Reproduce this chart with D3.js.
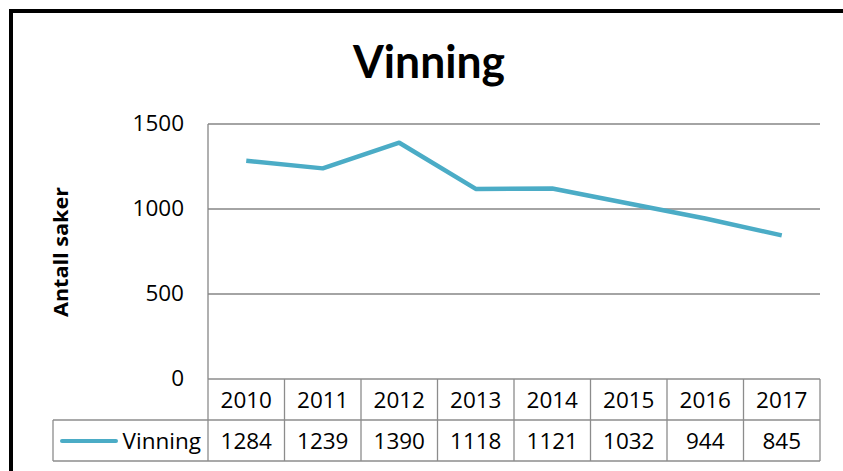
<!DOCTYPE html>
<html>
<head>
<meta charset="utf-8">
<script src="https://cdn.jsdelivr.net/npm/d3@7"></script>
<style>
  body { margin: 0; background: #fff; }
  svg { display: block; font-family: "Open Sans", Lato, sans-serif; }
</style>
</head>
<body>
<div id="chart"></div>
<script>
// data
var years = ['2010', '2011', '2012', '2013', '2014', '2015', '2016', '2017'];
var vinning = [1284, 1239, 1390, 1118, 1121, 1032, 944, 845];
var yTicks = [0, 500, 1000, 1500];
var seriesName = 'Vinning';

var W = 843, H = 471;
var plot = { left: 208, right: 820, top: 124, bottom: 379 };
var rowH = 41;
var fs = 22.5;

var svg = d3.select('#chart').append('svg')
    .attr('width', W).attr('height', H);

svg.append('rect')
    .attr('x', 0).attr('y', 0).attr('width', W).attr('height', H)
    .attr('fill', '#fff');

// outer frame
svg.append('rect')
    .attr('x', 11).attr('y', 11).attr('width', W + 20).attr('height', H + 20)
    .attr('fill', 'none').attr('stroke', '#000').attr('stroke-width', 4);

svg.append('text')
    .attr('x', 429).attr('y', 78)
    .attr('text-anchor', 'middle')
    .attr('font-family', 'Lato, sans-serif')
    .attr('font-size', 45).attr('font-weight', 'bold')
    .attr('textLength', 152).attr('lengthAdjust', 'spacingAndGlyphs')
    .text('Vinning');

var x = d3.scaleBand().domain(years).range([plot.left, plot.right]);
var y = d3.scaleLinear().domain([0, 1500]).range([plot.bottom, plot.top]);

// gridlines
svg.append('g').selectAll('line')
    .data(yTicks.filter(function(d){ return d > 0; }))
    .enter().append('line')
    .attr('x1', plot.left).attr('x2', plot.right)
    .attr('y1', function(d){ return y(d); }).attr('y2', function(d){ return y(d); })
    .attr('stroke', '#868686').attr('stroke-width', 1.3);

// y axis line
svg.append('line')
    .attr('x1', plot.left).attr('x2', plot.left)
    .attr('y1', plot.top).attr('y2', plot.bottom)
    .attr('stroke', '#868686').attr('stroke-width', 1.3);

svg.append('g').selectAll('text')
    .data(yTicks)
    .enter().append('text')
    .attr('x', 184).attr('y', function(d){ return y(d) + 7; })
    .attr('text-anchor', 'end')
    .attr('font-size', fs)
    .text(function(d){ return d; });

svg.append('text')
    .attr('transform', 'translate(68,252) rotate(-90)')
    .attr('text-anchor', 'middle')
    .attr('font-size', 20).attr('font-weight', 'bold')
    .attr('textLength', 130).attr('lengthAdjust', 'spacingAndGlyphs')
    .text('Antall saker');

// data table
var tbl = svg.append('g').attr('stroke', '#8c8c8c').attr('stroke-width', 1.3).attr('fill', 'none');
var top0 = plot.bottom, top1 = plot.bottom + rowH, top2 = plot.bottom + 2 * rowH;
tbl.append('line').attr('x1', plot.left).attr('x2', plot.right).attr('y1', top0).attr('y2', top0);
tbl.append('line').attr('x1', 53).attr('x2', plot.right).attr('y1', top1).attr('y2', top1);
tbl.append('line').attr('x1', 53).attr('x2', plot.right).attr('y1', top2).attr('y2', top2);
tbl.append('line').attr('x1', 53).attr('x2', 53).attr('y1', top1).attr('y2', top2);
tbl.selectAll('line.col')
    .data(years.concat(['end']))
    .enter().append('line').attr('class', 'col')
    .attr('x1', function(d, i){ return plot.left + i * x.bandwidth(); })
    .attr('x2', function(d, i){ return plot.left + i * x.bandwidth(); })
    .attr('y1', top0).attr('y2', top2);

svg.append('g').selectAll('text')
    .data(years)
    .enter().append('text')
    .attr('x', function(d){ return x(d) + x.bandwidth() / 2; })
    .attr('y', top0 + 29)
    .attr('text-anchor', 'middle').attr('font-size', fs)
    .text(function(d){ return d; });

svg.append('g').selectAll('text')
    .data(vinning)
    .enter().append('text')
    .attr('x', function(d, i){ return x(years[i]) + x.bandwidth() / 2; })
    .attr('y', top1 + 29)
    .attr('text-anchor', 'middle').attr('font-size', fs)
    .text(function(d){ return d; });

svg.append('line')
    .attr('x1', 62).attr('x2', 116)
    .attr('y1', top1 + 21).attr('y2', top1 + 21)
    .attr('stroke', '#4BACC6').attr('stroke-width', 4).attr('stroke-linecap', 'round');
svg.append('text')
    .attr('x', 201).attr('y', top1 + 29)
    .attr('text-anchor', 'end').attr('font-size', fs)
    .text(seriesName);

// the line
var line = d3.line()
    .x(function(d, i){ return x(years[i]) + x.bandwidth() / 2; })
    .y(function(d){ return y(d); });

svg.append('path')
    .datum(vinning)
    .attr('d', line)
    .attr('fill', 'none')
    .attr('stroke', '#4BACC6')
    .attr('stroke-width', 4.5)
    .attr('stroke-linejoin', 'round');
</script>
</body>
</html>
